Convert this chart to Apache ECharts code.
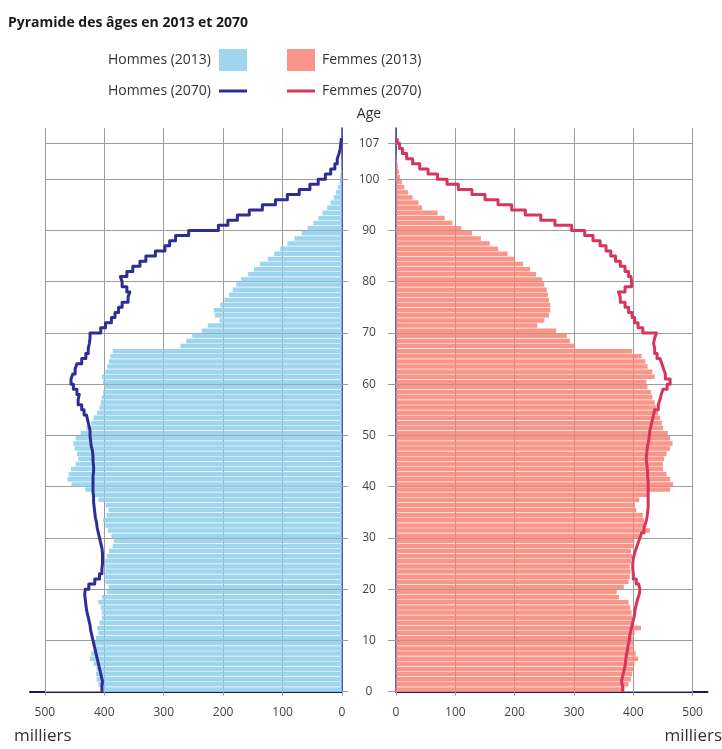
<!DOCTYPE html>
<html>
<head>
<meta charset="utf-8">
<script src="https://cdn.jsdelivr.net/npm/echarts@6/dist/echarts.min.js"></script>
<style>
  html, body { margin: 0; padding: 0; background: #ffffff; }
  #chart { width: 722px; height: 749px; }
</style>
</head>
<body>
<div id="chart"></div>
<script>
// Population by single year of age, in thousands (index = age)
const hommes2013 = [
  405, 410, 413, 414, 413, 418, 424, 422, 418, 416,
  414, 410, 412, 408, 404, 404, 406, 410, 404, 396,
  393, 398, 400, 398, 398, 399, 396, 392, 386, 384,
  388, 394, 398, 402, 396, 393, 398, 410, 418, 432,
  455, 462, 460, 456, 448, 444, 446, 450, 452, 448,
  440, 430, 422, 418, 412, 408, 406, 404, 402, 400,
  402, 404, 398, 395, 392, 390, 386, 272, 262, 252,
  236, 226, 206, 214, 216, 205, 198, 190, 184, 178,
  170, 158, 148, 138, 125, 114, 104, 92, 80, 68,
  58, 48, 40, 33, 25, 19, 14, 10, 7, 4,
  3, 2, 1, 1, 0, 0
];
const femmes2013 = [
  385, 392, 396, 398, 400, 402, 408, 404, 401, 400,
  399, 402, 413, 400, 398, 397, 395, 392, 376, 372,
  384, 392, 394, 395, 394, 396, 398, 396, 400, 402,
  410, 428, 420, 418, 416, 405, 403, 410, 426, 462,
  467, 462, 456, 450, 450, 452, 456, 462, 466, 462,
  458, 450, 448, 445, 442, 438, 436, 432, 430, 424,
  422, 436, 432, 424, 420, 414, 398, 302, 293, 288,
  270, 238, 250, 258, 260, 260, 258, 256, 254, 250,
  246, 236, 226, 214, 200, 188, 172, 158, 143, 128,
  110, 95, 82, 70, 44, 38, 28, 20, 14, 10,
  7, 5, 3, 2, 1, 0
];
const hommes2070 = [
  404, 403, 405, 407, 409, 411, 413, 415, 417, 419,
  421, 423, 424, 426, 428, 430, 431, 432, 433, 432,
  426, 416, 408, 404, 403, 403, 403, 404, 406, 408,
  410, 412, 413, 415, 416, 417, 418, 418, 419, 419,
  419, 419, 418, 418, 419, 419, 420, 422, 423, 424,
  424, 426, 428, 430, 434, 438, 444, 442, 446, 452,
  456, 453, 449, 446, 438, 431, 427, 425, 424, 424,
  406, 398, 388, 382, 376, 370, 360, 357, 362, 370,
  373, 362, 352, 340, 330, 314, 298, 290, 280, 258,
  208, 192, 176, 156, 134, 112, 92, 72, 54, 40,
  28, 19, 12, 8, 5, 3, 2, 1
];
const femmes2070 = [
  382, 380, 382, 384, 386, 387, 388, 390, 391, 393,
  394, 396, 398, 400, 402, 403, 405, 407, 410, 411,
  409, 405, 400, 399, 399, 400, 402, 405, 408, 411,
  414, 418, 421, 423, 424, 425, 425, 425, 425, 425,
  425, 424, 424, 423, 422, 422, 423, 424, 426, 427,
  428, 430, 432, 434, 436, 442, 445, 447, 450, 457,
  462, 454, 451, 448, 445, 440, 436, 434, 436, 439,
  416, 408, 402, 398, 392, 386, 378, 375, 386, 397,
  396, 392, 386, 378, 370, 362, 354, 344, 332, 318,
  296, 268, 244, 218, 195, 172, 150, 128, 105, 86,
  70, 54, 40, 28, 18, 11, 6, 2
];

// Axis tick values
const ageTicks = [0, 10, 20, 30, 40, 50, 60, 70, 80, 90, 100, 107];
const valueTicks = [0, 100, 200, 300, 400, 500];

const FONT = "'Open Sans', 'Noto Sans', sans-serif";
const COL = {
  hommesBar: 'rgba(140, 207, 235, 0.85)',
  femmesBar: 'rgba(248, 131, 116, 0.85)',
  hommesLine: '#2e2d94',
  femmesLine: '#d8355b',
  grid: '#9c9c9c',
  axisX: '#1d1b57',
  axisY: '#3b3f9f',
  label: '#444444'
};

// Flat bar used as the legend key of the staircase lines
const LINE_KEY = 'path://M0,0L28,0L28,3L0,3Z';

// One rectangle per age: from value 0 to the population, spanning [age, age + 1]
function ageBar(params, api) {
  const v = api.value(0);
  const a = api.value(1);
  const base = api.coord([0, a]);
  const tip = api.coord([v, a + 1]);
  const h = base[1] - tip[1];
  return {
    type: 'rect',
    shape: {
      x: Math.min(base[0], tip[0]),
      y: tip[1] + 0.6,
      width: Math.abs(tip[0] - base[0]),
      height: Math.max(h - 0.6, 0)
    },
    style: api.style()
  };
}

// Staircase outline: each age holds its value across its one-year band
function stairs(values) {
  const pts = [];
  values.forEach(function (v, a) {
    pts.push([v, a], [v, a + 1]);
  });
  return pts;
}

// Horizontal reference lines running from 0 to 500 thousand
function ageGridLines() {
  return ageTicks.map(function (a) {
    return [{ coord: [0, a] }, { coord: [500, a] }];
  });
}

function xAxisFor(gridIndex, inverse) {
  return {
    gridIndex: gridIndex,
    type: 'value',
    inverse: inverse,
    min: 0,
    max: 525,
    axisLine: { show: true, onZero: false, lineStyle: { color: COL.axisX, width: 2 } },
    axisTick: { show: true, length: 4, customValues: valueTicks, lineStyle: { color: COL.grid } },
    axisLabel: { customValues: valueTicks, margin: 15, fontSize: 12, color: COL.label, fontFamily: FONT },
    splitLine: { show: true, lineStyle: { color: COL.grid, width: 1 } }
  };
}

function yAxisFor(gridIndex, position, showLabels) {
  const ax = {
    gridIndex: gridIndex,
    type: 'value',
    position: position,
    min: 0,
    max: 110,
    axisLine: { show: true, onZero: false, lineStyle: { color: COL.axisY, width: 1.5 } },
    axisTick: { show: true, length: showLabels ? 6 : 8, customValues: ageTicks, lineStyle: { color: COL.grid } },
    axisLabel: {
      show: showLabels,
      customValues: ageTicks,
      align: 'center',
      margin: 27,
      fontSize: 12,
      color: COL.label,
      fontFamily: FONT
    },
    splitLine: { show: false }
  };
  if (showLabels) {
    ax.name = 'Age';
    ax.nameLocation = 'end';
    ax.nameGap = 7;
    ax.nameTextStyle = { fontSize: 14, color: '#333333', fontFamily: FONT, align: 'center', padding: [0, 0, 0, 54] };
  }
  return ax;
}

const chart = echarts.init(document.getElementById('chart'), null, { renderer: 'canvas' });

chart.setOption({
  backgroundColor: '#ffffff',
  animation: false,
  textStyle: { fontFamily: FONT },
  title: [
    {
      text: 'Pyramide des âges en 2013 et 2070',
      left: 8, top: 16, padding: 0,
      textStyle: { fontSize: 14, fontWeight: 'bold', color: '#1a1a1a', fontFamily: FONT }
    },
    {
      text: 'milliers',
      left: 14, top: 728, padding: 0,
      textStyle: { fontSize: 17, fontWeight: 'normal', color: '#333333', fontFamily: FONT }
    },
    {
      text: 'milliers',
      right: 0, top: 728, padding: 0,
      textStyle: { fontSize: 17, fontWeight: 'normal', color: '#333333', fontFamily: FONT }
    }
  ],
  legend: [
    {
      orient: 'vertical',
      align: 'right',
      right: 475,
      top: 49,
      padding: 0,
      itemWidth: 28,
      itemHeight: 22,
      itemGap: 13,
      selectedMode: false,
      textStyle: { fontSize: 14, color: '#333333', fontFamily: FONT, padding: [0, 3, 0, 0] },
      data: [{ name: 'Hommes (2013)', icon: 'rect' }, { name: 'Hommes (2070)', icon: LINE_KEY }]
    },
    {
      orient: 'vertical',
      align: 'left',
      left: 287,
      top: 49,
      padding: 0,
      itemWidth: 28,
      itemHeight: 22,
      itemGap: 13,
      selectedMode: false,
      textStyle: { fontSize: 14, color: '#333333', fontFamily: FONT, padding: [0, 0, 0, 2] },
      data: [{ name: 'Femmes (2013)', icon: 'rect' }, { name: 'Femmes (2070)', icon: LINE_KEY }]
    }
  ],
  grid: [
    { left: 30, width: 312, top: 128, height: 563.7 },
    { left: 396, width: 311.5, top: 128, height: 563.7 }
  ],
  xAxis: [xAxisFor(0, true), xAxisFor(1, false)],
  yAxis: [yAxisFor(0, 'right', true), yAxisFor(1, 'left', false)],
  series: [
    {
      name: 'Hommes (2013)',
      type: 'custom',
      xAxisIndex: 0,
      yAxisIndex: 0,
      renderItem: ageBar,
      encode: { x: 0, y: 1 },
      itemStyle: { color: COL.hommesBar },
      data: hommes2013.map(function (v, a) { return [v, a]; }),
      z: 2,
      markLine: {
        silent: true,
        z: 1,
        symbol: ['none', 'none'],
        label: { show: false },
        lineStyle: { color: COL.grid, width: 1, type: 'solid' },
        data: ageGridLines()
      }
    },
    {
      name: 'Hommes (2070)',
      type: 'line',
      xAxisIndex: 0,
      yAxisIndex: 0,
      symbol: 'none',
      showSymbol: false,
      lineStyle: { color: COL.hommesLine, width: 3, join: 'round' },
      itemStyle: { color: COL.hommesLine },
      data: stairs(hommes2070),
      z: 3
    },
    {
      name: 'Femmes (2013)',
      type: 'custom',
      xAxisIndex: 1,
      yAxisIndex: 1,
      renderItem: ageBar,
      encode: { x: 0, y: 1 },
      itemStyle: { color: COL.femmesBar },
      data: femmes2013.map(function (v, a) { return [v, a]; }),
      z: 2,
      markLine: {
        silent: true,
        z: 1,
        symbol: ['none', 'none'],
        label: { show: false },
        lineStyle: { color: COL.grid, width: 1, type: 'solid' },
        data: ageGridLines()
      }
    },
    {
      name: 'Femmes (2070)',
      type: 'line',
      xAxisIndex: 1,
      yAxisIndex: 1,
      symbol: 'none',
      showSymbol: false,
      lineStyle: { color: COL.femmesLine, width: 3, join: 'round' },
      itemStyle: { color: COL.femmesLine },
      data: stairs(femmes2070),
      z: 3
    }
  ]
});
</script>
</body>
</html>
